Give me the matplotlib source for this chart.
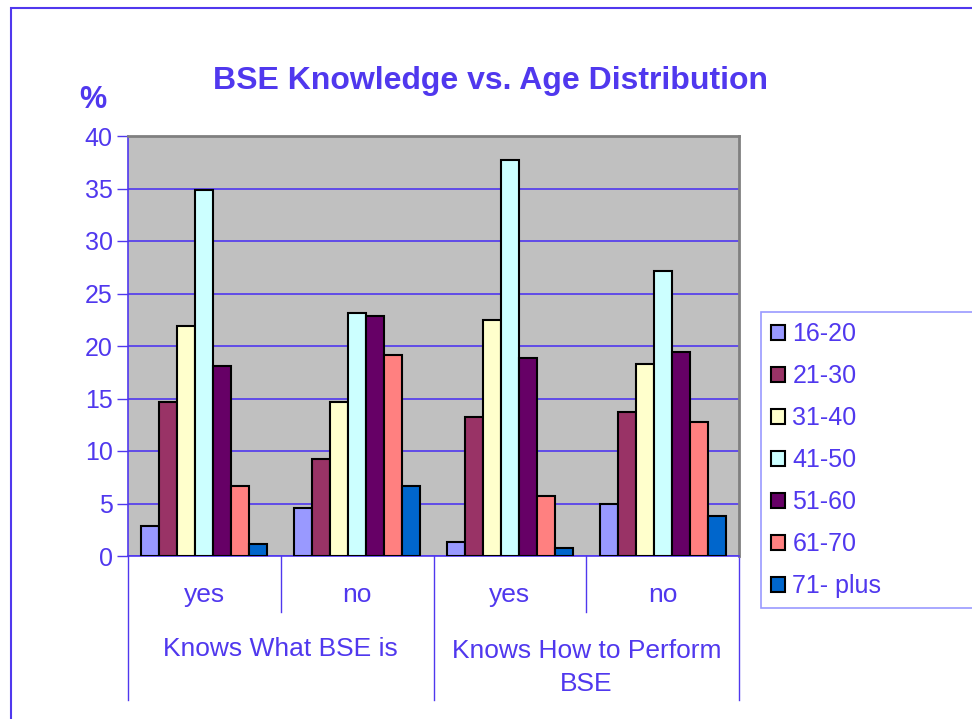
import numpy as np
import matplotlib
matplotlib.use('Agg')
import matplotlib.pyplot as plt
from matplotlib.patches import Rectangle

plt.rcParams['font.family'] = ['Liberation Sans', 'DejaVu Sans']

age_groups = ['16-20', '21-30', '31-40', '41-50', '51-60', '61-70', '71- plus']
answers = ['yes', 'no', 'yes', 'no']
questions = ['Knows What BSE is', 'Knows How to Perform\nBSE']

v_16_20 = [2.9, 4.6, 1.3, 5.0]
v_21_30 = [14.7, 9.2, 13.2, 13.7]
v_31_40 = [21.9, 14.7, 22.5, 18.3]
v_41_50 = [34.9, 23.1, 37.7, 27.1]
v_51_60 = [18.1, 22.9, 18.9, 19.4]
v_61_70 = [6.7, 19.1, 5.7, 12.8]
v_71_plus = [1.1, 6.7, 0.8, 3.8]
series = [v_16_20, v_21_30, v_31_40, v_41_50, v_51_60, v_61_70, v_71_plus]

colors = ['#9999FF', '#993366', '#FFFFCC', '#CCFFFF', '#660066', '#FF8080', '#0066CC']
blue = '#5038EE'

W, H = 972, 719
fig = plt.figure(figsize=(W / 100, H / 100), dpi=100)

# outer chart border (runs off right/bottom edge)
fig.patches.append(Rectangle((11 / W, -0.1), 1.2, 1 - 8 / H + 0.1, transform=fig.transFigure,
                             fill=False, edgecolor=blue, lw=1.5))

ax = fig.add_axes([128 / W, 1 - 556 / H, 611 / W, 420 / H])
ax.set_facecolor('#C0C0C0')

x = np.arange(len(answers))
bw = 18 / 153
for i, (vals, c) in enumerate(zip(series, colors)):
    ax.bar(x + (i - 3) * bw, vals, bw, color=c, edgecolor='black', lw=1.5,
           label=age_groups[i], zorder=3)

ax.set_xlim(-0.5, 3.5)
ax.set_ylim(0, 40)
ax.set_yticks(range(0, 41, 5))
ax.yaxis.grid(True, color=blue, lw=1.2, zorder=1)
ax.tick_params(axis='y', colors=blue, labelsize=18, length=8, width=1, pad=3)
ax.set_xticks([])
for s in ['top', 'right']:
    ax.spines[s].set_color('#808080')
    ax.spines[s].set_linewidth(2)
for s in ['left', 'bottom']:
    ax.spines[s].set_color(blue)
    ax.spines[s].set_linewidth(1.2)

# category axis lines and labels below the plot
tr = ax.get_xaxis_transform()
for xi, y1 in [(-0.5, -0.343), (0.5, -0.133), (1.5, -0.343), (2.5, -0.133), (3.5, -0.343)]:
    ax.plot([xi, xi], [0, y1], transform=tr, color=blue, lw=1, clip_on=False)
for xi, a in zip(x, answers):
    ax.text(xi, -0.092, a, transform=tr, ha='center', va='center', fontsize=19, color=blue)
ax.text(0.5, -0.222, questions[0], transform=tr, ha='center', va='center', fontsize=19, color=blue)
ax.text(2.5, -0.265, questions[1], transform=tr, ha='center', va='center', fontsize=19,
        color=blue, linespacing=1.5)

fig.text(490 / W, 1 - 81 / H, 'BSE Knowledge vs. Age Distribution', ha='center', va='center',
         fontsize=23, fontweight='bold', color=blue)
fig.text(93 / W, 1 - 100 / H, '%', ha='center', va='center', fontsize=22,
         fontweight='bold', color=blue)

leg = fig.legend(loc='upper left', bbox_to_anchor=(761 / W, 1 - 606 / H, 260 / W, 294 / H),
                 mode='expand', fontsize=18, frameon=True, fancybox=False,
                 handlelength=0.55, handleheight=0.55, handletextpad=0.3,
                 labelspacing=0.72, borderaxespad=0, borderpad=0.4)
leg.get_frame().set_edgecolor('#8080FF')
leg.get_frame().set_linewidth(1.2)
for t in leg.get_texts():
    t.set_color(blue)

fig.savefig('out.png', dpi=100)
